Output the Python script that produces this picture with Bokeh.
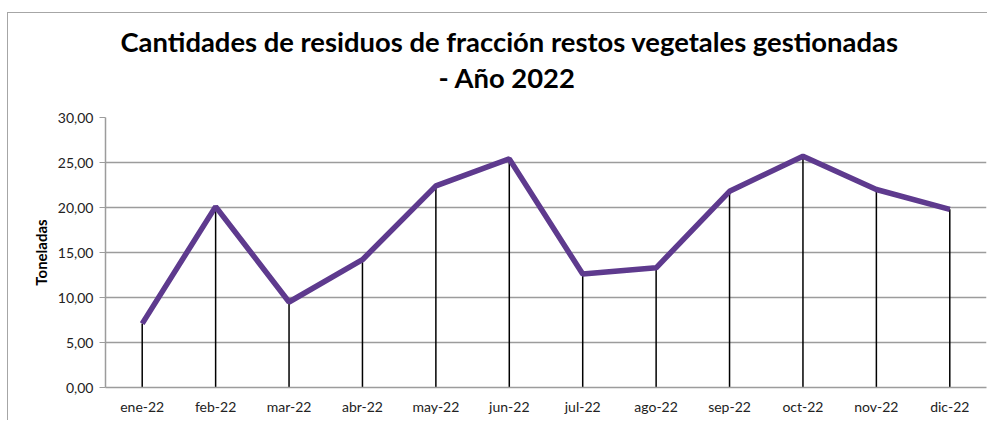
from bokeh.plotting import figure
from bokeh.models import FactorRange, Range1d, CustomJSTickFormatter, FixedTicker, Title
from bokeh.embed import file_html
from bokeh.resources import INLINE

months = ["ene-22", "feb-22", "mar-22", "abr-22", "may-22", "jun-22",
          "jul-22", "ago-22", "sep-22", "oct-22", "nov-22", "dic-22"]
toneladas = [7.1, 20.1, 9.5, 14.2, 22.4, 25.4, 12.6, 13.3, 21.8, 25.7, 22.0, 19.8]
y_ticks = [0, 5, 10, 15, 20, 25, 30]
title_line1 = "Cantidades de residuos de fracción restos vegetales gestionadas"
title_line2 = "- Año 2022"

FONT = "Lato"

p = figure(width=980, height=408, x_range=FactorRange(factors=months),
           y_range=Range1d(0, 30), output_backend="svg", toolbar_location=None,
           min_border_left=97, min_border_right=2, min_border_top=104,
           min_border_bottom=34)
p.margin = (12, 0, 0, 7)
p.styles = {"border-left": "1px solid #A6A6A6", "border-top": "1px solid #A6A6A6"}
p.outline_line_color = None
p.background_fill_color = "white"
p.border_fill_color = "white"

# grid
p.xgrid.grid_line_color = None
p.ygrid.grid_line_color = "#9C9C9C"
p.ygrid.grid_line_width = 1.5

# y axis
p.yaxis.ticker = FixedTicker(ticks=y_ticks)
p.yaxis.formatter = CustomJSTickFormatter(code="return tick.toFixed(2).replace('.', ',');")
p.yaxis.axis_line_color = "#9C9C9C"
p.yaxis.axis_line_width = 1.5
p.yaxis.major_tick_line_color = "#9C9C9C"
p.yaxis.major_tick_out = 6
p.yaxis.major_tick_in = 0
p.yaxis.minor_tick_line_color = None
p.yaxis.major_label_text_font = FONT
p.yaxis.major_label_text_font_size = "14px"
p.yaxis.major_label_text_color = "#222222"
p.yaxis.major_label_standoff = 6
p.yaxis.axis_label = "Toneladas"
p.yaxis.axis_label_text_font = FONT
p.yaxis.axis_label_text_font_style = "bold"
p.yaxis.axis_label_text_font_size = "15px"
p.yaxis.axis_label_text_color = "black"
p.yaxis.axis_label_standoff = 5

# x axis
p.xaxis.axis_line_color = "#9C9C9C"
p.xaxis.axis_line_width = 1.5
p.xaxis.major_tick_line_color = None
p.xaxis.minor_tick_line_color = None
p.xaxis.major_label_text_font = FONT
p.xaxis.major_label_text_font_size = "14px"
p.xaxis.major_label_text_color = "#222222"
p.xaxis.major_label_standoff = 4

# drop lines
p.segment(x0=months, y0=0, x1=months, y1=toneladas, line_color="black", line_width=1.5)
# main line
p.line(months, toneladas, line_color="#5E3A8E", line_width=5.5)

# title: outermost line is p.title; added panels stack from the frame outward
p.title.text = title_line1
p.title.align = "left"
p.title.offset = 15
p.title.text_font = FONT
p.title.text_font_style = "bold"
p.title.text_font_size = "27.4px"
p.title.text_color = "black"
p.title.standoff = 2

p.add_layout(Title(text=" ", text_font=FONT, text_font_size="18px", standoff=0), "above")
p.add_layout(Title(text=title_line2, align="left", offset=333, text_font=FONT,
                   text_font_style="bold", text_font_size="27.4px",
                   text_color="black", standoff=0), "above")

open("out.html", "w").write(file_html(p, INLINE))
